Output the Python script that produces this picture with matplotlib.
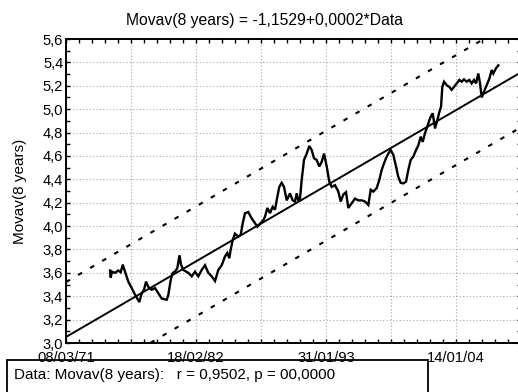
import numpy as np
import matplotlib
matplotlib.use('Agg')
import matplotlib.pyplot as plt
import matplotlib.patches as mpatches
from matplotlib.ticker import MultipleLocator, FuncFormatter

plt.rcParams['font.family'] = ['Liberation Sans', 'DejaVu Sans']

# Date serial numbers (days since 30/12/1899) and 8-year moving average
days = [27354, 27375, 27415, 27508, 27609, 27683, 27745, 27815, 27917, 28022,
        28102, 28194, 28255, 28329, 28400, 28462, 28532, 28637, 28739, 28840,
        28945, 29099, 29148, 29222, 29283, 29354, 29425, 29492, 29539, 29609,
        29763, 29868, 29969, 30071, 30176, 30277, 30379, 30483, 30585, 30686,
        30791, 30892, 30963, 31025, 31068, 31129, 31200, 31302, 31376, 31437,
        31508, 31609, 31714, 31816, 31886, 31969, 32071, 32123, 32194, 32277,
        32360, 32431, 32502, 32563, 32637, 32708, 32791, 32892, 32975, 33046,
        33099, 33148, 33200, 33252, 33323, 33406, 33486, 33560, 33631, 33714,
        33794, 33868, 33939, 34022, 34102, 34176, 34277, 34379, 34453, 34533,
        34616, 34686, 34791, 34893, 34994, 35099, 35200, 35302, 35376, 35456,
        35560, 35640, 35714, 35763, 35846, 35917, 35991, 36071, 36154, 36225,
        36299, 36379, 36462, 36533, 36606, 36687, 36770, 36840, 36914, 36976,
        37046, 37117, 37179, 37222, 37283, 37354, 37425, 37487, 37539, 37579,
        37631, 37714, 37794, 37868, 37939, 38022, 38102, 38176, 38246, 38330,
        38410, 38483, 38554, 38616, 38686, 38739, 38791, 38862, 38945, 39025,
        39099, 39148, 39231, 39302]
movav = [3.62, 3.56, 3.61, 3.60, 3.62, 3.605, 3.67, 3.61, 3.525, 3.47,
         3.425, 3.38, 3.35, 3.425, 3.455, 3.525, 3.48, 3.455, 3.47, 3.425,
         3.38, 3.37, 3.41, 3.54, 3.60, 3.61, 3.64, 3.75, 3.67, 3.625,
         3.60, 3.57, 3.61, 3.57, 3.625, 3.665, 3.60, 3.57, 3.53, 3.625,
         3.665, 3.74, 3.77, 3.725, 3.80, 3.88, 3.935, 3.91, 3.925, 4.025,
         4.11, 4.12, 4.065, 4.025, 3.995, 4.02, 4.05, 4.08, 4.155, 4.11,
         4.165, 4.14, 4.25, 4.335, 4.37, 4.335, 4.22, 4.28, 4.22, 4.21,
         4.28, 4.22, 4.235, 4.395, 4.565, 4.62, 4.685, 4.65, 4.58, 4.565,
         4.51, 4.55, 4.62, 4.51, 4.38, 4.335, 4.35, 4.295, 4.21, 4.27,
         4.29, 4.155, 4.195, 4.235, 4.22, 4.22, 4.21, 4.18, 4.31, 4.295,
         4.325, 4.395, 4.48, 4.52, 4.58, 4.62, 4.65, 4.61, 4.51, 4.42,
         4.37, 4.365, 4.38, 4.48, 4.565, 4.595, 4.65, 4.69, 4.765, 4.72,
         4.795, 4.85, 4.905, 4.935, 4.965, 4.835, 4.905, 4.975, 5.02, 5.19,
         5.235, 5.205, 5.19, 5.165, 5.19, 5.22, 5.25, 5.235, 5.255, 5.235,
         5.25, 5.22, 5.25, 5.22, 5.305, 5.22, 5.10, 5.15, 5.205, 5.26,
         5.335, 5.305, 5.35, 5.375]

# Regression fit and prediction band half-width
intercept = -1.1529
slope = 0.0001617
band = 0.47

xtick_days = [26000, 30000, 34000, 38000]
xtick_labels = ['08/03/71', '18/02/82', '31/01/93', '14/01/04']

fig = plt.figure(figsize=(5.18, 3.92), dpi=100)
ax = fig.add_axes([66 / 518, 49 / 392, 455 / 518, 304 / 392])

xmin, xmax = 26000, 40000
xs = np.array([xmin, xmax])
fit = intercept + slope * xs

ax.plot(days, movav, color='black', lw=1.7, solid_joinstyle='miter')
ax.plot(xs, fit, color='black', lw=1.4)
for off in (band, -band):
    ax.plot(xs, fit + off, color='black', lw=1.5, linestyle=(0, (2.2, 4.5)))

ax.set_xlim(xmin, xmax)
ax.set_ylim(3.0, 5.6)

# Grid every 2000 days, labels every 4000
ax.xaxis.set_major_locator(MultipleLocator(2000))
ax.xaxis.set_minor_locator(MultipleLocator(400))
lab = dict(zip(xtick_days, xtick_labels))
ax.xaxis.set_major_formatter(FuncFormatter(lambda v, p: lab.get(int(round(v)), '')))
ax.yaxis.set_major_locator(MultipleLocator(0.2))
ax.yaxis.set_minor_locator(MultipleLocator(0.1))
ax.yaxis.set_major_formatter(FuncFormatter(lambda v, p: f'{v:.1f}'.replace('.', ',')))

ax.tick_params(which='both', direction='in', top=True, right=True, length=3,
               width=1, labelsize=10.6, colors='black')
ax.tick_params(axis='y', pad=2)
ax.tick_params(axis='x', pad=5.5)
ax.grid(True, which='major', color='#a8a8a8', linestyle=(0, (1, 2)), lw=0.8)
for s in ax.spines.values():
    s.set_linewidth(1.4)

ax.set_ylabel('Movav(8 years)', fontsize=11)
ax.yaxis.set_label_coords(-0.085, 0.5)

fig.text(265 / 518, 1 - 20 / 392, 'Movav(8 years) = -1,1529+0,0002*Data',
         ha='center', va='center', fontsize=11.3)

# Statistics box along the bottom edge
box = mpatches.Rectangle((7 / 518, -4 / 392), 421 / 518, 36 / 392,
                         transform=fig.transFigure, fill=False,
                         edgecolor='black', lw=1.3, clip_on=False)
fig.add_artist(box)
fig.text(14 / 518, 1 - 375 / 392, 'Data: Movav(8 years):   r = 0,9502, p = 00,0000',
         ha='left', va='center', fontsize=11)

fig.savefig('out.png', dpi=100)
